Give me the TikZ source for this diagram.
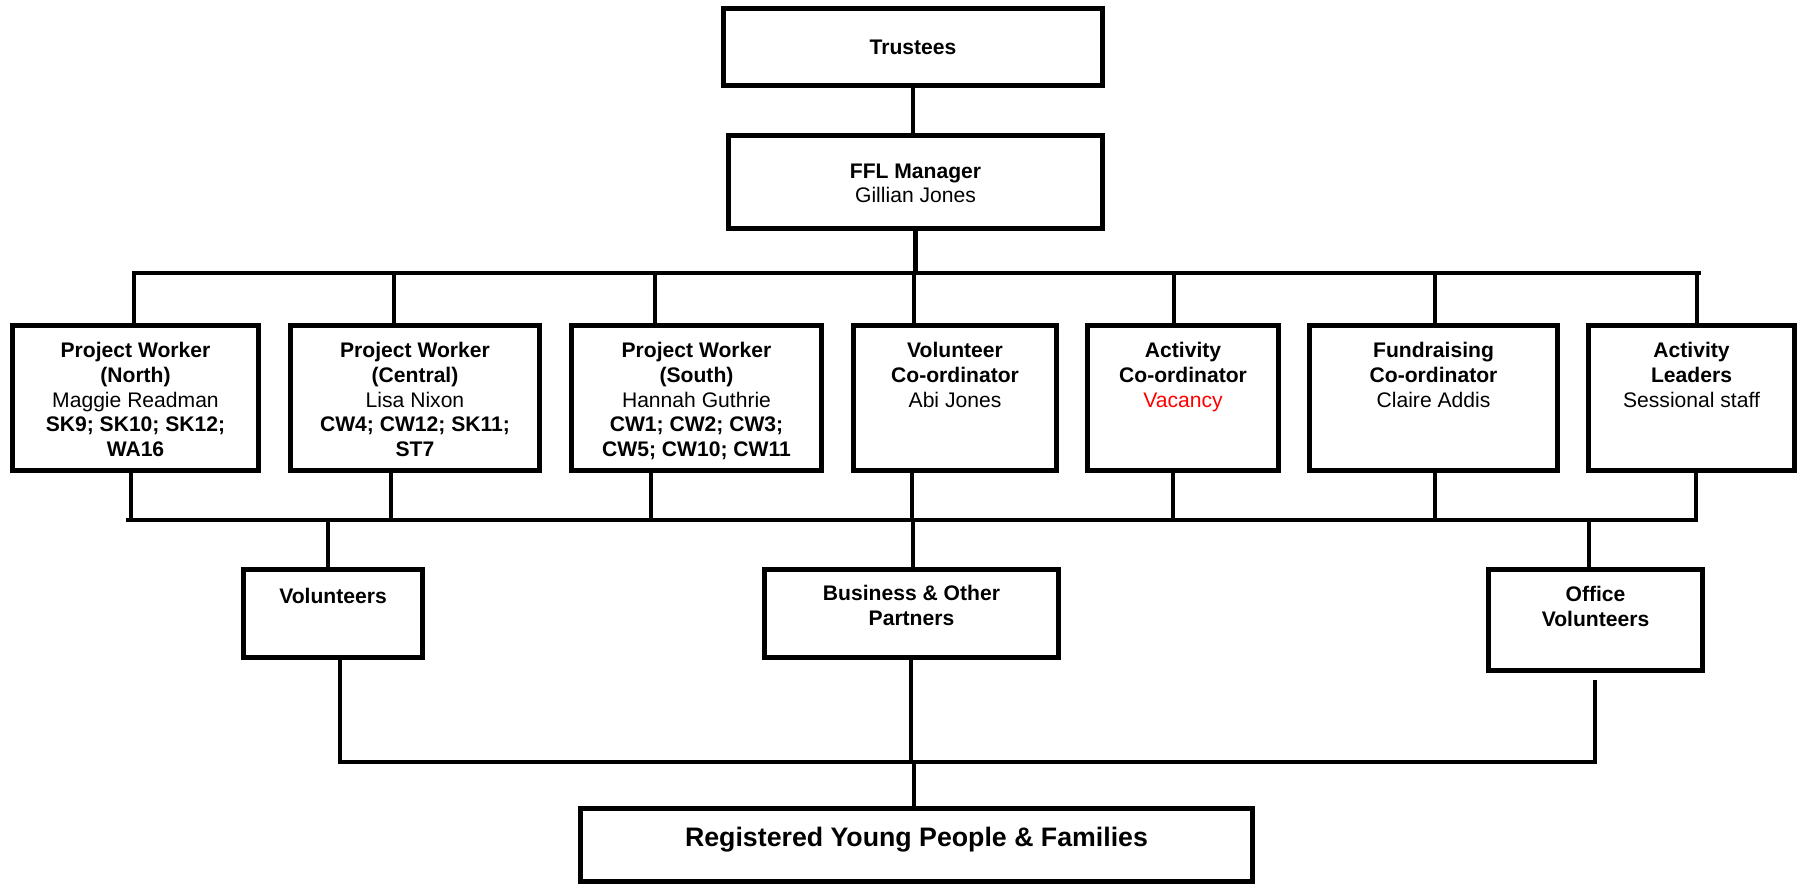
\documentclass[tikz,border=0pt]{standalone}
\usepackage{fontspec}
\setmainfont{Liberation Sans}
\usetikzlibrary{positioning}
\begin{document}
\begin{tikzpicture}[x=0.01cm,y=-0.01cm,
        box/.style={draw,line width=1.5pt,inner sep=0pt,align=center,font=\fontsize{6}{7}\selectfont},
        txt/.style={inner sep=0pt,align=center,font=\fontsize{6}{7}\selectfont},
        link/.style={line width=1.4pt,line cap=rect}]
                \useasboundingbox (0,0) rectangle (1801,885);
                % top of the chart
                \node[box,minimum width=3.79cm,minimum height=0.77cm] (trustees) at (913,47) {\textbf{Trustees}};
                \node[box,minimum width=3.74cm,minimum height=0.93cm] (manager) at (915.5,182) {};
                \node[txt,below=0.30cm of manager.north] (managertxt) {\textbf{FFL Manager}\\Gillian Jones};
                % staff row
                \node[box,minimum width=2.46cm,minimum height=1.45cm] (north) at (135.5,398) {};
                \node[box,minimum width=2.49cm,minimum height=1.45cm] (central) at (415,398) {};
                \node[box,minimum width=2.50cm,minimum height=1.45cm] (south) at (696.5,398) {};
                \node[box,minimum width=2.03cm,minimum height=1.45cm] (volco) at (955,398) {};
                \node[box,minimum width=1.91cm,minimum height=1.45cm] (actco) at (1183,398) {};
                \node[box,minimum width=2.48cm,minimum height=1.45cm] (fundco) at (1433.5,398) {};
                \node[box,minimum width=2.06cm,minimum height=1.45cm] (leaders) at (1691.5,398) {};
                \node[txt,below=0.19cm of north.north] (northtxt) {\textbf{Project Worker}\\\textbf{(North)}\\Maggie Readman\\\textbf{SK9; SK10; SK12;}\\\textbf{WA16}};
                \node[txt,below=0.19cm of central.north] (centraltxt) {\textbf{Project Worker}\\\textbf{(Central)}\\Lisa Nixon\\\textbf{CW4; CW12; SK11;}\\\textbf{ST7}};
                \node[txt,below=0.19cm of south.north] (southtxt) {\textbf{Project Worker}\\\textbf{(South)}\\Hannah Guthrie\\\textbf{CW1; CW2; CW3;}\\\textbf{CW5; CW10; CW11}};
                \node[txt,below=0.19cm of volco.north] (volcotxt) {\textbf{Volunteer}\\\textbf{Co-ordinator}\\Abi Jones};
                \node[txt,below=0.19cm of actco.north] (actcotxt) {\textbf{Activity}\\\textbf{Co-ordinator}\\\textcolor{red}{Vacancy}};
                \node[txt,below=0.19cm of fundco.north] (fundcotxt) {\textbf{Fundraising}\\\textbf{Co-ordinator}\\Claire Addis};
                \node[txt,below=0.19cm of leaders.north] (leaderstxt) {\textbf{Activity}\\\textbf{Leaders}\\Sessional staff};
                % second level
                \node[box,minimum width=1.79cm,minimum height=0.88cm] (vols) at (333,613.5) {};
                \node[box,minimum width=2.94cm,minimum height=0.88cm] (business) at (911.5,613.5) {};
                \node[box,minimum width=2.14cm,minimum height=1.01cm] (office) at (1595.5,620) {};
                \node[txt,below=0.21cm of vols.north] (volstxt) {\textbf{Volunteers}};
                \node[txt,below=0.18cm of business.north] (businesstxt) {\textbf{Business \& Other}\\\textbf{Partners}};
                \node[txt,below=0.19cm of office.north] (officetxt) {\textbf{Office}\\\textbf{Volunteers}};
                \node[box,minimum width=6.72cm,minimum height=0.73cm] (reg) at (916.5,845) {};
                \node[txt,font=\fontsize{7.6}{9}\selectfont\bfseries,below=0.21cm of reg.north] (regtxt) {Registered Young People \& Families};
                % connectors
                \coordinate (topbusL) at (134,273);
                \coordinate (topbusR) at (1699,273);
                \coordinate (midbusL) at (128,520);
                \coordinate (midbusR) at (1696,520);
                \coordinate (lowbusL) at (340,762);
                \coordinate (lowbusR) at (1595,762);
                \draw[link] (trustees.south) -- (trustees.south |- manager.north);
                \draw[link] (manager.south) -- (manager.south |- topbusL);
                \draw[link] (topbusL) -- (topbusR);
                \foreach \x/\n in {134/north,394/central,655/south,914/volco,1174/actco,1435/fundco,1697/leaders}
                    \draw[link] (\x,273) -- (\x,273 |- \n.north);
                \foreach \x/\n in {131/north,391/central,651/south,912/volco,1173/actco,1435/fundco,1696/leaders}
                    \draw[link] (\n.south -| \x,0) -- (\x,520);
                \draw[link] (midbusL) -- (midbusR);
                \foreach \x/\n in {328/vols,913/business,1589/office}
                    \draw[link] (\x,520) -- (\x,520 |- \n.north);
                \draw[link] (vols.south -| lowbusL) -- (lowbusL);
                \draw[link] (business.south -| 911,0) -- (911,762);
                \draw[link] ([yshift=-0.09cm]office.south -| lowbusR) -- (lowbusR);
                \draw[link] (lowbusL) -- (lowbusR);
                \draw[link] (914,762) -- (914,762 |- reg.north);
            \end{tikzpicture}
\end{document}
